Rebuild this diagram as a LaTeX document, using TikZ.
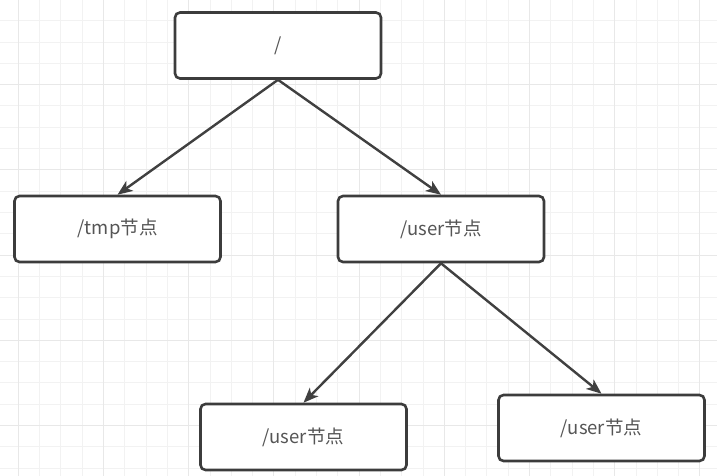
\documentclass[tikz,border=0pt]{standalone}
\usepackage{fontspec}
\setmainfont{Noto Sans CJK SC}
\usetikzlibrary{arrows.meta}
\definecolor{gridminor}{HTML}{F2F2F2}
\definecolor{gridmajor}{HTML}{E8E8E8}
\definecolor{boxline}{HTML}{3C3C3C}
\definecolor{arrowline}{HTML}{404040}
\definecolor{txt}{HTML}{555555}
\tikzset{
  treebox/.style={draw=boxline, line width=2.6pt, fill=white, rounded corners=5pt,
    minimum width=206pt, minimum height=66pt, inner sep=0pt,
    font=\fontsize{18.5}{22}\selectfont, text=txt},
  link/.style={draw=arrowline, line width=2.4pt,
    -{Stealth[length=15pt,width=12pt,inset=4pt]}}
}
\begin{document}
\begin{tikzpicture}[x=1pt,y=-1pt]
\useasboundingbox (0,0) rectangle (717,476);
\fill[white] (0,0) rectangle (717,476);
% grid
\foreach \i in {0,...,34} {
  \pgfmathsetmacro{\xx}{18.2+21.3*(\i-1)}
  \draw[gridminor, line width=0.8pt] (\xx,0) -- (\xx,476);
}
\foreach \i in {0,...,23} {
  \pgfmathsetmacro{\yy}{-0.6+21.3*\i}
  \draw[gridminor, line width=0.8pt] (0,\yy) -- (717,\yy);
}
\foreach \i in {0,...,8} {
  \pgfmathsetmacro{\xx}{18.2+85.2*\i}
  \draw[gridmajor, line width=1pt] (\xx,0) -- (\xx,476);
}
\foreach \i in {0,...,6} {
  \pgfmathsetmacro{\yy}{-0.6+85.2*\i}
  \draw[gridmajor, line width=1pt] (0,\yy) -- (717,\yy);
}
% nodes
\node[treebox] (root) at (278,45.5) {/};
\node[treebox] (tmp) at (117.5,229) {/tmp节点};
\node[treebox] (user) at (441,229) {/user节点};
\node[treebox] (user2) at (303.5,437) {/user节点};
\node[treebox] (user3) at (601.5,428) {/user节点};
% connectors
\draw[link] (root.south) -- (tmp.north);
\draw[link] (root.south) -- (user.north);
\draw[link] (user.south) -- (user2.north);
\draw[link] (user.south) -- (user3.north);
\end{tikzpicture}
\end{document}
